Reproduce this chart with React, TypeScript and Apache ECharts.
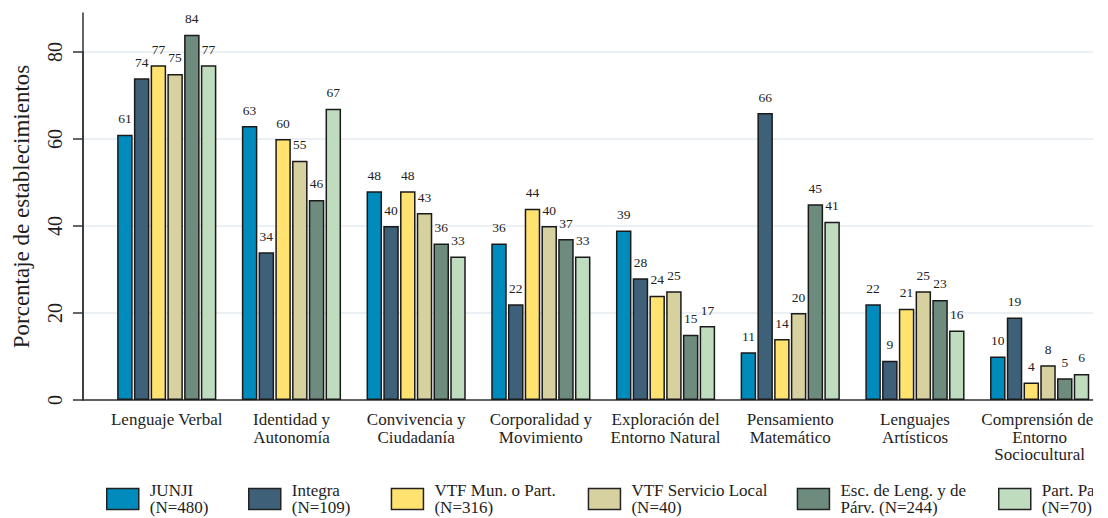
import React, { useEffect, useRef } from "react";
import * as echarts from "echarts";

const categories = [
  "Lenguaje Verbal",
  "Identidad y\nAutonomía",
  "Convivencia y\nCiudadanía",
  "Corporalidad y\nMovimiento",
  "Exploración del\nEntorno Natural",
  "Pensamiento\nMatemático",
  "Lenguajes\nArtísticos",
  "Comprensión del\nEntorno\nSociocultural",
];

const seriesNames = [
  "JUNJI\n(N=480)",
  "Integra\n(N=109)",
  "VTF Mun. o Part.\n(N=316)",
  "VTF Servicio Local\n(N=40)",
  "Esc. de Leng. y de\nPárv. (N=244)",
  "Part. Pagado\n(N=70)",
];

const junji = [61, 63, 48, 36, 39, 11, 22, 10];
const integra = [74, 34, 40, 22, 28, 66, 9, 19];
const vtfMun = [77, 60, 48, 44, 24, 14, 21, 4];
const vtfLocal = [75, 55, 43, 40, 25, 20, 25, 8];
const escLeng = [84, 46, 36, 37, 15, 45, 23, 5];
const partPagado = [77, 67, 33, 33, 17, 41, 16, 6];

const seriesValues = [junji, integra, vtfMun, vtfLocal, escLeng, partPagado];
const colors = ["#008bbd", "#3e6079", "#ffe270", "#d7d19f", "#6d8c7e", "#c0dcbf"];
const legendLefts = [106, 248, 390.7, 587.7, 796.7, 998];
const yTicks = [0, 20, 40, 60, 80];

const FONT = "'Liberation Serif', 'Times New Roman', serif";
const TXT = "#1e1e1e";

export default function App() {
  const ref = useRef<HTMLDivElement>(null);
  useEffect(() => {
    if (!ref.current) return;
    const chart = echarts.init(ref.current, undefined, { renderer: "svg" });
    const option: any = {
      animation: false,
      backgroundColor: "#ffffff",
      textStyle: { fontFamily: FONT },
      grid: [
        { left: 83, top: 52, height: 348, width: 1200 },
        { left: 104.4, top: 13, height: 387, width: 997.6 },
      ],
      xAxis: [
        {
          gridIndex: 0,
          type: "value",
          min: 0,
          max: 1,
          axisLine: { show: true, onZero: false, lineStyle: { color: "#333", width: 1.5 } },
          axisTick: { show: false },
          axisLabel: { show: false },
          splitLine: { show: false },
        },
        {
          gridIndex: 1,
          type: "category",
          data: categories,
          axisLine: { show: false },
          axisTick: { show: false },
          axisLabel: {
            interval: 0,
            fontSize: 17,
            lineHeight: 17.5,
            color: TXT,
            fontFamily: FONT,
            margin: 11,
          },
        },
      ],
      yAxis: [
        {
          gridIndex: 0,
          type: "value",
          min: yTicks[0],
          max: yTicks[yTicks.length - 1],
          interval: 20,
          axisLine: { show: true, lineStyle: { color: "#333", width: 1.5 } },
          axisTick: { show: true, length: 10, lineStyle: { color: "#333", width: 1.5 } },
          axisLabel: {
            rotate: 90,
            fontSize: 20,
            color: TXT,
            fontFamily: FONT,
            margin: 18,
          },
          splitLine: { show: true, lineStyle: { color: "#eaf0f3", width: 2 } },
        },
        {
          gridIndex: 1,
          type: "value",
          min: 0,
          max: 89,
          offset: 21.4,
          name: "Porcentaje de establecimientos",
          nameLocation: "middle",
          nameGap: 50,
          nameTextStyle: { fontSize: 23, color: TXT, fontFamily: FONT },
          axisLine: { show: true, lineStyle: { color: "#333", width: 1.5 } },
          axisTick: { show: false },
          axisLabel: { show: false },
          splitLine: { show: false },
        },
      ],
      legend: seriesNames.map((name, i) => ({
        left: legendLefts[i],
        top: 482,
        padding: 0,
        icon: "rect",
        itemWidth: 32,
        itemHeight: 21,
        itemStyle: { borderColor: "#222", borderWidth: 1.5 },
        textStyle: {
          fontSize: 17,
          lineHeight: 17,
          color: TXT,
          fontFamily: FONT,
          padding: [0, 0, 0, 6],
        },
        data: [name],
      })),
      series: seriesNames.map((name, i) => ({
        name,
        type: "bar",
        xAxisIndex: 1,
        yAxisIndex: 1,
        data: seriesValues[i],
        barWidth: 15.5,
        barGap: "8%",
        itemStyle: { color: colors[i], borderColor: "#1a1a1a", borderWidth: 1.5 },
        label: {
          show: true,
          position: "top",
          distance: 9,
          fontSize: 13.5,
          color: "#222",
          fontFamily: FONT,
        },
      })),
    };
    chart.setOption(option);
    return () => chart.dispose();
  }, []);
  return (
    <div
      style={{
        position: "absolute",
        left: 0,
        top: 0,
        width: 1093,
        height: 518,
        overflow: "hidden",
        background: "#fff",
      }}
    >
      <div ref={ref} style={{ width: 1300, height: 518 }} />
    </div>
  );
}
